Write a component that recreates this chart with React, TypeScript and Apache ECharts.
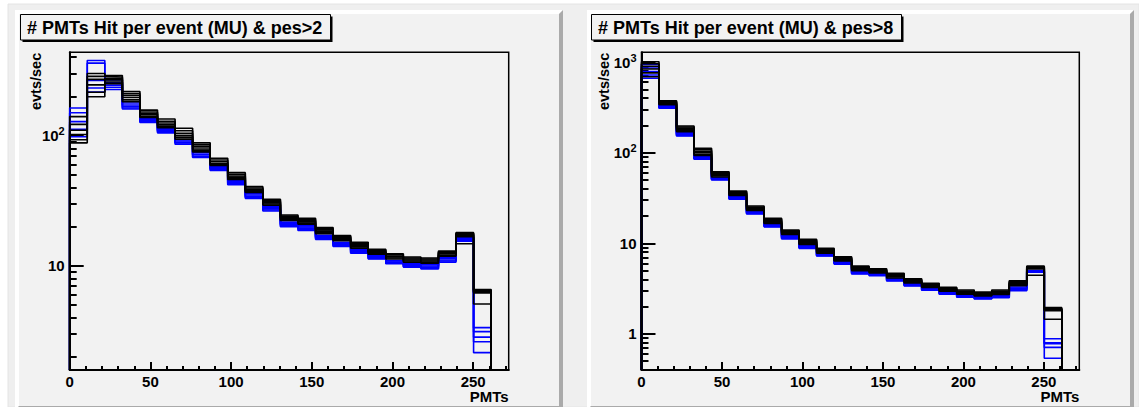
import React, { useEffect, useRef } from "react";
import * as echarts from "echarts";

// ---- Binning and axis ticks -------------------------------------------------
const X_MIN = 0;
const X_MAX = 272;
const BIN_WIDTH = 10.88; // 25 bins over [0, 272]
const X_MAJOR = [0, 50, 100, 150, 200, 250];
const X_MINOR = [10, 20, 30, 40, 60, 70, 80, 90, 110, 120, 130, 140, 160, 170, 180, 190, 210, 220, 230, 240, 260, 270];

const X_TITLE = "PMTs";
const Y_TITLE = "evts/sec";

// ---- pes>2 panel -------------------------------------------------------------
const PES2_TITLE = "# PMTs Hit per event (MU) & pes>2";
const PES2_Y_RANGE = [1.59, 436];
const PES2_DECADES = [1, 2];
const PES2_MINOR = [2, 3, 4, 5, 6, 7, 8, 9, 20, 30, 40, 50, 60, 70, 80, 90, 200, 300, 400];

const PES2_BLACK = [
  [140, 300, 289, 218, 157, 134, 114, 88, 67, 52, 40.6, 32.5, 24.6, 23.2, 19.7, 17.1, 15.2, 13.4, 12.4, 11.7, 11.5, 13.0, 18.0, 6.6],
  [122, 285, 282, 210, 152, 129, 109, 85, 65, 50.5, 39.6, 31.8, 24.1, 22.7, 19.3, 16.8, 14.9, 13.2, 12.2, 11.5, 11.3, 12.8, 17.8, 6.5],
  [110, 270, 276, 203, 148, 125, 104, 82, 63, 49, 38.8, 31.1, 23.6, 22.2, 18.9, 16.5, 14.6, 12.9, 11.9, 11.3, 11.1, 12.6, 17.5, 6.3],
  [102, 245, 268, 196, 145, 121, 100, 79, 61, 48, 38, 30.5, 23.2, 21.8, 18.5, 16.2, 14.3, 12.7, 11.7, 11.1, 10.9, 12.4, 17.2, 6.2],
  [93, 215, 258, 188, 141, 118, 97, 77, 60, 47, 37.3, 29.9, 22.7, 21.3, 18.1, 15.9, 14.0, 12.5, 11.5, 10.9, 10.7, 12.1, 16.8, 5.1],
  [88, 199, 250, 182, 138, 115, 94, 75, 59, 46, 36.6, 29.3, 22.3, 20.9, 17.7, 15.6, 13.7, 12.3, 11.3, 10.7, 10.5, 11.9, 14.8, 6.4],
];
const PES2_BLUE = [
  [163, 377, 268, 178, 136, 113, 93, 74, 58, 45.5, 35.8, 28.6, 21.7, 20.3, 17.2, 15.2, 13.4, 12.0, 11.0, 10.4, 10.2, 11.6, 16.6, 3.36],
  [150, 360, 255, 172, 133, 111, 91, 72, 57, 44.5, 35, 28, 21.2, 19.9, 16.9, 14.9, 13.2, 11.8, 10.9, 10.3, 10.0, 11.4, 16.3, 3.13],
  [128, 265, 244, 167, 130, 109, 89, 71, 56, 43.5, 34.3, 27.4, 20.8, 19.5, 16.6, 14.6, 12.9, 11.6, 10.7, 10.1, 9.8, 11.1, 16.0, 2.84],
  [112, 232, 235, 163, 128, 107, 88, 69, 55, 42.8, 33.6, 26.9, 20.4, 19.1, 16.3, 14.3, 12.7, 11.4, 10.5, 9.9, 9.6, 10.9, 15.7, 2.62],
  [98, 216, 226, 160, 126, 105, 86, 68, 54, 42, 33, 26.4, 20.0, 18.7, 16.0, 14.1, 12.5, 11.3, 10.4, 9.8, 9.5, 10.7, 15.5, 2.16],
];

// ---- pes>8 panel -------------------------------------------------------------
const PES8_TITLE = "# PMTs Hit per event (MU) & pes>8";
const PES8_Y_RANGE = [0.4, 1283];
const PES8_DECADES = [0, 1, 2, 3];
const PES8_MINOR = [0.5, 0.6, 0.7, 0.8, 0.9, 2, 3, 4, 5, 6, 7, 8, 9, 20, 30, 40, 50, 60, 70, 80, 90, 200, 300, 400, 500, 600, 700, 800, 900];

const PES8_BLACK = [
  [1010, 375, 197, 112, 61.7, 37.8, 25.8, 18.9, 14.0, 11.1, 8.8, 7.1, 5.6, 5.25, 4.67, 4.07, 3.62, 3.27, 3.05, 2.90, 3.05, 3.86, 5.6, 1.95],
  [960, 368, 192, 108, 60, 37, 25.2, 18.4, 13.7, 10.8, 8.6, 6.95, 5.45, 5.1, 4.55, 3.97, 3.54, 3.2, 2.98, 2.84, 2.98, 3.76, 5.5, 1.9],
  [900, 360, 187, 104, 58.5, 36.2, 24.6, 17.9, 13.4, 10.5, 8.4, 6.8, 5.3, 5.0, 4.45, 3.88, 3.46, 3.13, 2.92, 2.78, 2.91, 3.66, 5.4, 1.84],
  [840, 352, 182, 100, 57, 35.4, 24, 17.4, 13.1, 10.2, 8.2, 6.65, 5.2, 4.9, 4.35, 3.8, 3.39, 3.07, 2.86, 2.72, 2.85, 3.57, 5.3, 1.8],
  [760, 345, 176, 96, 55.5, 34.6, 23.5, 17.0, 12.8, 9.9, 8.0, 6.5, 5.1, 4.8, 4.25, 3.72, 3.32, 3.01, 2.8, 2.67, 2.79, 3.48, 5.2, 1.45],
  [690, 338, 171, 93, 54, 33.8, 23, 16.6, 12.5, 9.7, 7.8, 6.4, 5.0, 4.7, 4.15, 3.65, 3.26, 2.96, 2.75, 2.62, 2.73, 3.4, 4.45, 1.88],
];
const PES8_BLUE = [
  [945, 330, 166, 90, 53, 32.8, 22.4, 16.2, 12.1, 9.4, 7.6, 6.25, 4.9, 4.6, 4.05, 3.57, 3.2, 2.9, 2.69, 2.57, 2.67, 3.3, 5.0, 0.885],
  [860, 322, 162, 88, 52, 32.1, 22, 15.9, 11.8, 9.2, 7.5, 6.15, 4.8, 4.55, 4.0, 3.51, 3.15, 2.86, 2.65, 2.53, 2.62, 3.2, 4.95, 0.80],
  [785, 316, 158, 87, 51.2, 31.5, 21.7, 15.6, 11.6, 9.0, 7.4, 6.05, 4.7, 4.5, 3.95, 3.46, 3.1, 2.82, 2.61, 2.49, 2.58, 3.12, 4.9, 0.78],
  [720, 312, 155, 86, 50.6, 31, 21.4, 15.4, 11.4, 8.9, 7.3, 5.95, 4.65, 4.45, 3.9, 3.42, 3.06, 2.77, 2.57, 2.46, 2.54, 3.05, 4.85, 0.71],
  [663, 309, 153, 84.6, 50, 30.6, 21.1, 15.2, 11.2, 8.8, 7.25, 5.9, 4.6, 4.39, 3.84, 3.38, 3.03, 2.74, 2.54, 2.43, 2.51, 3.0, 4.8, 0.54],
];

// ---- Styling -----------------------------------------------------------------
const FONT = "'Liberation Sans', Arial, Helvetica, sans-serif";
const PAD_BG = "#f2f2f2";
const CANVAS_BG = "#efefef";
const BEVEL_LIGHT = "#ffffff";
const BEVEL_DARK = "#aaaaaa";
const BLACK = "#000000";
const BLUE = "#0000ff";
const TICK_COLOR = BLACK;

type PanelLayout = {
  pad: [number, number, number, number]; // x0, y0, x1, y1
  grid: { left: number; top: number; width: number; height: number };
  titleBox: [number, number, number, number];
  yTitleX: number;
};

const LAYOUTS: PanelLayout[] = [
  { pad: [15, 10, 563, 410], grid: { left: 69.7, top: 52.3, width: 439, height: 317.7 }, titleBox: [20.5, 14.5, 310, 25.5], yTitleX: 36 },
  { pad: [587, 10, 1134, 410], grid: { left: 641.5, top: 52.3, width: 437.8, height: 317.7 }, titleBox: [591.5, 14.5, 310, 25.5], yTitleX: 604 },
];

// Histogram outline: rise at the first edge, flat top per bin, fall after the last bin.
function histogramOutline(values: number[], floor: number): [number, number][] {
  const pts: [number, number][] = [[X_MIN, floor]];
  values.forEach((v, i) => {
    pts.push([X_MIN + i * BIN_WIDTH, v]);
    pts.push([X_MIN + (i + 1) * BIN_WIDTH, v]);
  });
  pts.push([X_MIN + values.length * BIN_WIDTH, floor]);
  return pts;
}

function decadeLabel(v: number): string {
  const e = Math.round(v);
  if (e === 0) return "1";
  if (e === 1) return "10";
  return `{b|10}{s|${e}}`;
}

function bevel(x0: number, y0: number, x1: number, y1: number, bw: number) {
  return [
    {
      type: "polygon",
      z: -9,
      silent: true,
      shape: { points: [[x0, y0], [x1, y0], [x1 - bw, y0 + bw], [x0 + bw, y0 + bw], [x0 + bw, y1 - bw], [x0, y1]] },
      style: { fill: BEVEL_LIGHT },
    },
    {
      type: "polygon",
      z: -9,
      silent: true,
      shape: { points: [[x1, y0], [x1, y1], [x0, y1], [x0 + bw, y1 - bw], [x1 - bw, y1 - bw], [x1 - bw, y0 + bw]] },
      style: { fill: BEVEL_DARK },
    },
  ];
}

function buildOption() {
  const panels = [
    { title: PES2_TITLE, yRange: PES2_Y_RANGE, decades: PES2_DECADES, minor: PES2_MINOR, black: PES2_BLACK, blue: PES2_BLUE },
    { title: PES8_TITLE, yRange: PES8_Y_RANGE, decades: PES8_DECADES, minor: PES8_MINOR, black: PES8_BLACK, blue: PES8_BLUE },
  ];

  const grid: any[] = [];
  const xAxis: any[] = [];
  const yAxis: any[] = [];
  const series: any[] = [];
  const graphic: any[] = [
    { type: "rect", z: -10, silent: true, shape: { x: 8, y: 4, width: 1131, height: 403 }, style: { fill: CANVAS_BG, stroke: "#e4e4e4", lineWidth: 1 } },
  ];

  panels.forEach((p, g) => {
    const L = LAYOUTS[g];
    const [px0, py0, px1, py1] = L.pad;
    graphic.push({ type: "rect", z: -10, silent: true, shape: { x: px0, y: py0, width: px1 - px0, height: py1 - py0 }, style: { fill: PAD_BG } });
    graphic.push(...bevel(px0, py0, px1, py1, 4));

    grid.push({
      ...L.grid,
      show: true,
      borderColor: BLACK,
      borderWidth: 1.5,
      containLabel: false,
      outerBoundsMode: "none",
    });

    const yLogMin = Math.log10(p.yRange[0]);
    const yLogMax = Math.log10(p.yRange[1]);

    // x: major ticks with labels, then minor ticks
    xAxis.push({
      type: "value",
      gridIndex: g,
      position: "bottom",
      min: X_MIN,
      max: X_MAX,
      axisLine: { show: true, onZero: false, lineStyle: { color: BLACK, width: 2 } },
      axisTick: { show: true, inside: true, length: 8, customValues: X_MAJOR, lineStyle: { color: TICK_COLOR, width: 2 } },
      axisLabel: { show: true, customValues: X_MAJOR, margin: 4, color: BLACK, fontSize: 15, fontWeight: "bold", fontFamily: FONT },
      splitLine: { show: false },
    });
    xAxis.push({
      type: "value",
      gridIndex: g,
      position: "bottom",
      min: X_MIN,
      max: X_MAX,
      axisLine: { show: false, onZero: false },
      axisTick: { show: true, inside: true, length: 4, customValues: X_MINOR, lineStyle: { color: TICK_COLOR, width: 2 } },
      axisLabel: { show: false },
      splitLine: { show: false },
    });

    // y: logarithmic data axis (hidden), decade ticks with labels, minor ticks
    yAxis.push({
      type: "log",
      logBase: 10,
      gridIndex: g,
      position: "left",
      min: p.yRange[0],
      max: p.yRange[1],
      show: false,
    });
    yAxis.push({
      type: "value",
      gridIndex: g,
      position: "left",
      min: yLogMin,
      max: yLogMax,
      axisLine: { show: true, onZero: false, lineStyle: { color: BLACK, width: 2 } },
      axisTick: { show: true, inside: true, length: 14, customValues: p.decades, lineStyle: { color: TICK_COLOR, width: 2 } },
      axisLabel: {
        show: true,
        customValues: p.decades,
        margin: 5,
        color: BLACK,
        fontSize: 15,
        fontWeight: "bold",
        fontFamily: FONT,
        formatter: decadeLabel,
        rich: {
          b: { fontSize: 15, fontWeight: "bold", fontFamily: FONT, color: BLACK, lineHeight: 20 },
          s: { fontSize: 11, fontWeight: "bold", fontFamily: FONT, color: BLACK, lineHeight: 10, verticalAlign: "top" },
        },
      },
      splitLine: { show: false },
    });
    yAxis.push({
      type: "value",
      gridIndex: g,
      position: "left",
      min: yLogMin,
      max: yLogMax,
      axisLine: { show: false, onZero: false },
      axisTick: { show: true, inside: true, length: 7, customValues: p.minor.map((v) => Math.log10(v)), lineStyle: { color: TICK_COLOR, width: 2 } },
      axisLabel: { show: false },
      splitLine: { show: false },
    });

    const addRuns = (runs: number[][], color: string, tag: string) => {
      runs.forEach((vals, i) => {
        series.push({
          name: `${tag} ${i + 1}`,
          type: "line",
          xAxisIndex: 2 * g,
          yAxisIndex: 3 * g,
          data: histogramOutline(vals, p.yRange[0]),
          showSymbol: false,
          symbol: "none",
          silent: true,
          lineStyle: { color, width: 1.6 },
        });
      });
    };
    addRuns(p.blue, BLUE, `${p.title} blue`);
    addRuns(p.black, BLACK, `${p.title} black`);

    // title box with shadow
    const [tx, ty, tw, th] = L.titleBox;
    graphic.push({ type: "rect", z: 5, silent: true, shape: { x: tx + 2, y: ty + 2, width: tw, height: th }, style: { fill: BLACK } });
    graphic.push({ type: "rect", z: 6, silent: true, shape: { x: tx, y: ty, width: tw, height: th }, style: { fill: PAD_BG, stroke: BLACK, lineWidth: 1 } });
    graphic.push({
      type: "text",
      z: 7,
      silent: true,
      x: tx + 6.5,
      y: ty + th / 2 + 0.5,
      style: { text: p.title, fill: BLACK, fontSize: 18, fontWeight: "bold", fontFamily: FONT, align: "left", verticalAlign: "middle" },
    });

    // axis titles
    graphic.push({
      type: "text",
      z: 7,
      silent: true,
      x: L.yTitleX,
      y: L.grid.top + 0.5,
      rotation: Math.PI / 2,
      style: { text: Y_TITLE, fill: BLACK, fontSize: 14.5, fontWeight: "bold", fontFamily: FONT, align: "right", verticalAlign: "middle" },
    });
    graphic.push({
      type: "text",
      z: 7,
      silent: true,
      x: L.grid.left + L.grid.width,
      y: 396,
      style: { text: X_TITLE, fill: BLACK, fontSize: 15, fontWeight: "bold", fontFamily: FONT, align: "right", verticalAlign: "middle" },
    });
  });

  return {
    animation: false,
    backgroundColor: "#ffffff",
    grid,
    xAxis,
    yAxis,
    series,
    graphic,
  };
}

export default function App() {
  const ref = useRef<HTMLDivElement>(null);
  useEffect(() => {
    if (!ref.current) return;
    const chart = echarts.init(ref.current, undefined, { renderer: "svg" });
    chart.setOption(buildOption() as any);
    return () => chart.dispose();
  }, []);
  return <div ref={ref} style={{ position: "absolute", left: 0, top: 0, width: 1139, height: 407 }} />;
}
